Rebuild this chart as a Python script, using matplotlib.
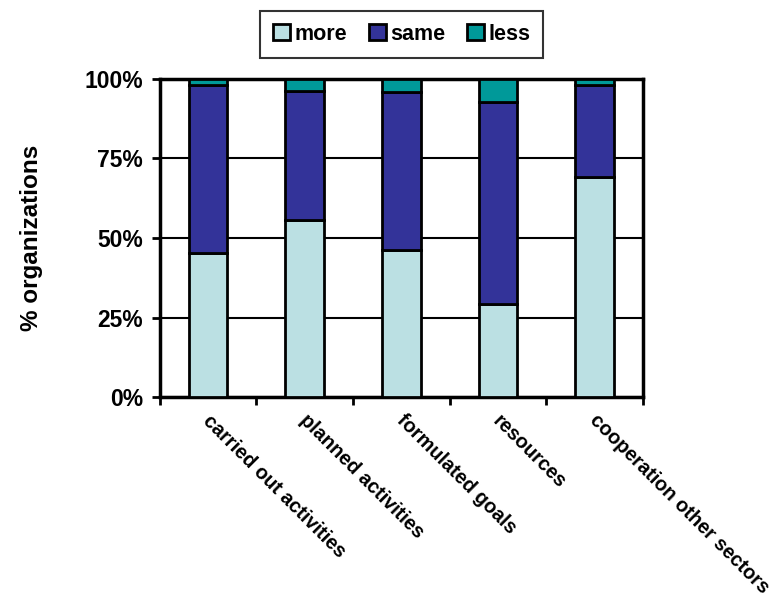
import numpy as np
import matplotlib
matplotlib.use("Agg")
import matplotlib.pyplot as plt
from matplotlib.ticker import FixedLocator

plt.rcParams['font.family'] = ['Liberation Sans', 'DejaVu Sans']

# Data (% of organizations)
categories = ["carried out activities", "planned activities", "formulated goals",
              "resources", "cooperation other sectors"]
more = [45.3, 55.6, 46.2, 29.2, 69.3]
same = [52.8, 40.6, 49.8, 63.7, 28.8]
less = [1.9, 3.8, 4.0, 7.1, 1.9]
y_ticks = [0, 25, 50, 75, 100]
y_labels = ["0%", "25%", "50%", "75%", "100%"]

colors = {"more": "#BBE0E3", "same": "#333399", "less": "#009999"}

fig = plt.figure(figsize=(7.8, 6.03), dpi=100)
ax = fig.add_axes([0.205, 0.3416, 0.619, 0.5274])

x = np.arange(len(categories))
w = 0.4
more_a = np.array(more)
same_a = np.array(same)
less_a = np.array(less)

ax.bar(x, more_a, w, color=colors["more"], edgecolor="black", linewidth=2, label="more", zorder=3)
ax.bar(x, same_a, w, bottom=more_a, color=colors["same"], edgecolor="black", linewidth=2, label="same", zorder=3)
ax.bar(x, less_a, w, bottom=more_a + same_a, color=colors["less"], edgecolor="black", linewidth=2, label="less", zorder=3)

ax.set_xlim(-0.5, len(categories) - 0.5)
ax.set_ylim(0, 100)
ax.set_yticks(y_ticks)
ax.set_yticklabels(y_labels, fontsize=16.5, fontweight="bold")
ax.yaxis.grid(True, color="black", linewidth=1.5, zorder=0)

# category labels, ticks sit between categories
ax.set_xticks(x)
ax.set_xticklabels([])
ax.xaxis.set_minor_locator(FixedLocator(np.arange(-0.5, len(categories), 1)))
ax.tick_params(axis="x", which="major", length=0)
ax.tick_params(axis="x", which="minor", length=6, width=2, direction="out")
ax.tick_params(axis="y", length=6, width=2, direction="out", pad=6)
for xi, lab in zip(x, categories):
    ax.text(xi - 0.02, -6.5, lab, rotation=-45, rotation_mode="anchor",
            ha="left", va="center", fontsize=14.3, fontweight="bold",
            transform=ax.transData, clip_on=False)

for sp in ax.spines.values():
    sp.set_linewidth(2.5)

ax.set_ylabel("% organizations", fontsize=17.5, fontweight="bold", labelpad=30)

leg = fig.legend(loc="upper center", bbox_to_anchor=(0.515, 1.0), ncol=3,
                 frameon=True, fancybox=False, edgecolor="black",
                 prop={"size": 15.5, "weight": "bold"}, handlelength=0.8,
                 handleheight=0.8, handletextpad=0.2, columnspacing=1.0,
                 borderpad=0.6)
leg.get_frame().set_linewidth(1.5)

fig.savefig("out.png", dpi=100)
